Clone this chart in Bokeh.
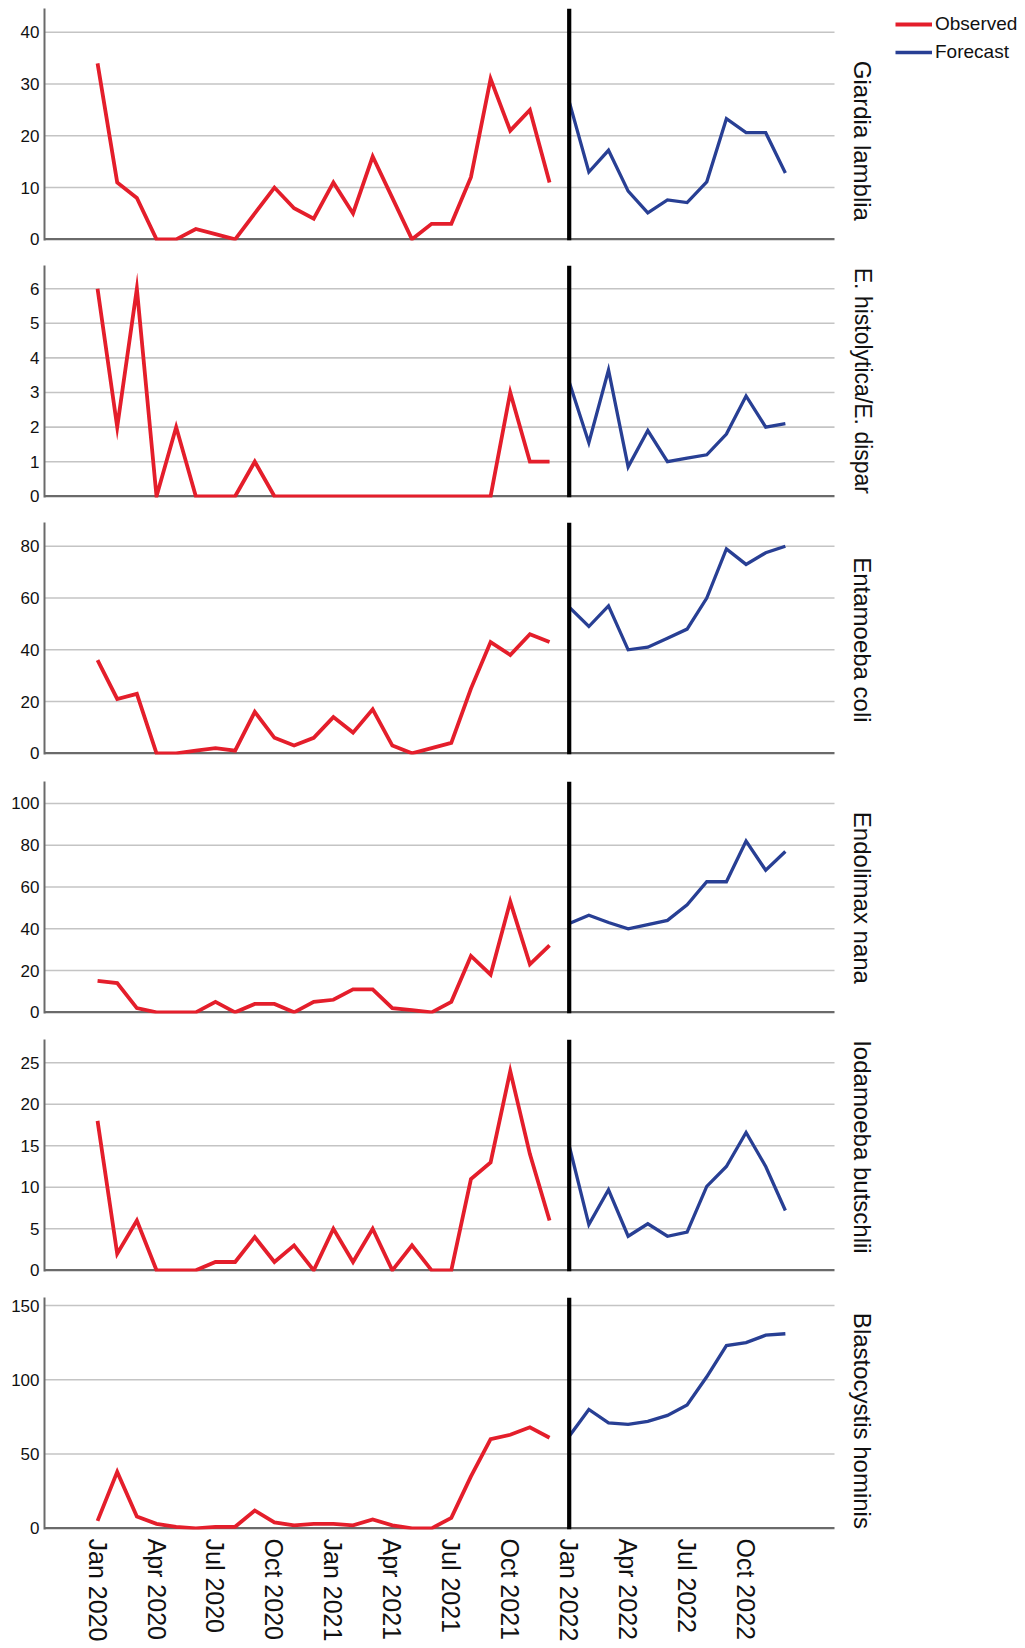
import math
from bokeh.plotting import figure
from bokeh.models import Range1d, FixedTicker, Span, Label, Legend, LegendItem
from bokeh.layouts import column
from bokeh.embed import file_html
from bokeh.resources import INLINE

# ---------------- data ----------------
panel_names = ["Giardia lamblia", "E. histolytica/E. dispar", "Entamoeba coli",
               "Endolimax nana", "Iodamoeba butschlii", "Blastocystis hominis"]

obs_months = list(range(0, 24))    # Jan 2020 .. Dec 2021 (month index)
fc_months = list(range(24, 36))    # Jan 2022 .. Dec 2022
forecast_start = 24                # Jan 2022

tick_months = [0, 3, 6, 9, 12, 15, 18, 21, 24, 27, 30, 33]
tick_labels = ["Jan 2020", "Apr 2020", "Jul 2020", "Oct 2020", "Jan 2021", "Apr 2021",
               "Jul 2021", "Oct 2021", "Jan 2022", "Apr 2022", "Jul 2022", "Oct 2022"]

giardia_obs = [34, 11, 8, 0, 0, 2, 1, 0, 5, 10, 6, 4, 11, 5, 16, 8, 0, 3, 3, 12, 31, 21, 25, 11]
giardia_fc = [26.6, 13, 17.2, 9.3, 5.1, 7.6, 7.1, 11.1, 23.3, 20.6, 20.6, 12.8]

histolytica_obs = [6, 2, 6, 0, 2, 0, 0, 0, 1, 0, 0, 0, 0, 0, 0, 0, 0, 0, 0, 0, 0, 3, 1, 1]
histolytica_fc = [3.3, 1.55, 3.65, 0.85, 1.9, 1.0, 1.1, 1.2, 1.8, 2.9, 2.0, 2.1]

ecoli_obs = [36, 21, 23, 0, 0, 1, 2, 1, 16, 6, 3, 6, 14, 8, 17, 3, 0, 2, 4, 25, 43, 38, 46, 43]
ecoli_fc = [56.5, 49, 57, 40, 41, 44.5, 48, 60, 79, 73, 77.5, 80]

endolimax_obs = [15, 14, 2, 0, 0, 0, 5, 0, 4, 4, 0, 5, 6, 11, 11, 2, 1, 0, 5, 27, 18, 53, 23, 32]
endolimax_fc = [42.5, 46.5, 43, 40, 42, 44, 51.5, 62.5, 62.5, 82, 68, 77]

iodamoeba_obs = [18, 2, 6, 0, 0, 0, 1, 1, 4, 1, 3, 0, 5, 1, 5, 0, 3, 0, 0, 11, 13, 24, 14, 6]
iodamoeba_fc = [15, 5.5, 9.7, 4.1, 5.6, 4.1, 4.6, 10.1, 12.5, 16.6, 12.5, 7.2]

blasto_obs = [5, 38, 8, 3, 1, 0, 1, 1, 12, 4, 2, 3, 3, 2, 6, 2, 0, 0, 7, 35, 60, 63, 68, 61]
blasto_fc = [62, 80, 71, 70, 72, 76, 83, 102, 123, 125, 130, 131]

observed = [giardia_obs, histolytica_obs, ecoli_obs, endolimax_obs, iodamoeba_obs, blasto_obs]
forecast = [giardia_fc, histolytica_fc, ecoli_fc, endolimax_fc, iodamoeba_fc, blasto_fc]

y_max = [44.6, 6.67, 89.2, 110.5, 27.8, 155.4]
y_ticks = [[0, 10, 20, 30, 40], [0, 1, 2, 3, 4, 5, 6], [0, 20, 40, 60, 80],
           [0, 20, 40, 60, 80, 100], [0, 5, 10, 15, 20, 25], [0, 50, 100, 150]]

# ---------------- style / layout ----------------
RED = "#e41e2b"
BLUE = "#283f94"
GRID = "#c4c4c4"
AXIS = "#6a6a6a"
FONT = "Liberation Sans"

X_START = -2.7          # left edge of the plotting area (months)
X_END = 37.5            # right end of grid lines / axis line (months)
PLOT_W = 790            # px width of the plotting area
FRAME_W = 973           # frame extends to the right for side labels / legend
FRAME_H = 232
px_per_month = PLOT_W / (X_END - X_START)
x_frame_end = X_START + FRAME_W / px_per_month
LABEL_X = X_START + 818 / px_per_month

top_borders = [8, 0, 0, 0, 0, 0]
bottom_borders = [25, 25, 27, 26, 26, 119]
label_offsets = [17, 0, 2, 1, -8, 8]     # shift of the side labels (px, +down)
label_sizes = ["24px", "23px", "24px", "24px", "24px", "24px"]

figs = []
for i in range(6):
    last = (i == 5)
    unit = y_max[i] / FRAME_H
    y0 = -1.2 * unit
    p = figure(frame_width=FRAME_W, frame_height=FRAME_H,
               min_border_left=44, min_border_right=0,
               min_border_top=top_borders[i], min_border_bottom=bottom_borders[i],
               x_range=Range1d(X_START, x_frame_end), y_range=Range1d(y0, y_max[i]),
               output_backend="svg", toolbar_location=None)
    p.outline_line_color = None
    p.background_fill_color = "white"
    p.border_fill_color = "white"
    p.xgrid.grid_line_color = None
    p.ygrid.grid_line_color = None

    # grid lines limited to the plotting area
    gt = [t for t in y_ticks[i] if t != 0]
    p.segment(x0=[X_START] * len(gt), x1=[X_END] * len(gt), y0=gt, y1=gt,
              line_color=GRID, line_width=1.6, level="underlay")
    # horizontal axis line at 0
    p.segment(x0=[X_START], x1=[X_END], y0=[0], y1=[0], line_color=AXIS, line_width=2.5)

    yax = p.yaxis[0]
    yax.ticker = FixedTicker(ticks=y_ticks[i])
    yax.axis_line_color = AXIS
    yax.axis_line_width = 2
    yax.major_tick_line_color = None
    yax.minor_tick_line_color = None
    yax.major_tick_out = 0
    yax.major_tick_in = 0
    yax.major_label_standoff = 5
    yax.major_label_text_font = FONT
    yax.major_label_text_font_size = "17px"
    yax.major_label_text_color = "#111111"

    xax = p.xaxis[0]
    xax.axis_line_color = None
    xax.major_tick_line_color = None
    xax.minor_tick_line_color = None
    xax.major_tick_out = 0
    xax.major_tick_in = 0
    if last:
        xax.ticker = FixedTicker(ticks=tick_months)
        xax.major_label_overrides = {m: lab for m, lab in zip(tick_months, tick_labels)}
        xax.major_label_orientation = -math.pi / 2
        xax.major_label_standoff = 9
        xax.major_label_text_font = FONT
        xax.major_label_text_font_size = "25px"
        xax.major_label_text_color = "#111111"
    else:
        xax.ticker = FixedTicker(ticks=[])
        xax.major_label_standoff = 0

    r_obs = p.line(obs_months, observed[i], line_color=RED, line_width=3.8, line_join="miter")
    r_fc = p.line(fc_months, forecast[i], line_color=BLUE, line_width=3.3, line_join="miter")

    p.add_layout(Span(location=forecast_start, dimension="height",
                      line_color="black", line_width=4.2))

    p.add_layout(Label(x=LABEL_X, y=y_max[i] / 2, text=panel_names[i],
                       angle=-math.pi / 2, text_align="center", text_baseline="middle",
                       y_offset=-label_offsets[i],
                       text_font=FONT, text_font_size=label_sizes[i], text_color="#111111"))

    if i == 0:
        legend = Legend(items=[LegendItem(label="Observed", renderers=[r_obs]),
                               LegendItem(label="Forecast", renderers=[r_fc])],
                        location=(851, 177))
        legend.glyph_width = 37
        legend.glyph_height = 20
        legend.label_standoff = 3
        legend.label_height = 20
        legend.spacing = 6
        legend.padding = 0
        legend.margin = 0
        legend.background_fill_alpha = 0
        legend.border_line_alpha = 0
        legend.label_text_font = FONT
        legend.label_text_font_size = "19px"
        legend.label_text_color = "#111111"
        p.add_layout(legend)
    figs.append(p)

layout = column(*figs, spacing=0)
open("out.html", "w").write(file_html(layout, INLINE))
